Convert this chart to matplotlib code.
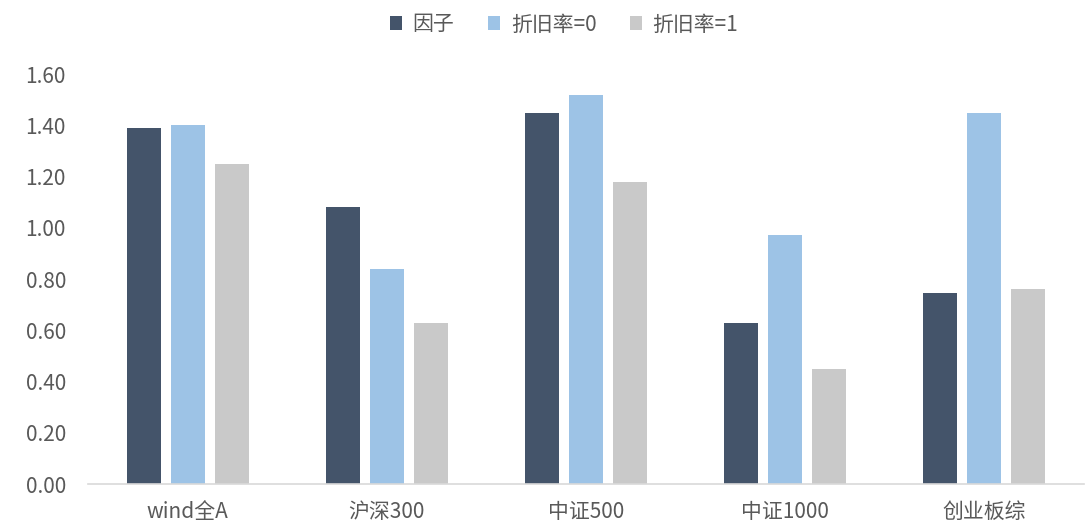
import matplotlib.pyplot as plt
import numpy as np

plt.rcParams['font.family'] = ['Noto Sans CJK SC', 'DejaVu Sans']

# Data
categories = ["wind全A", "沪深300", "中证500", "中证1000", "创业板综"]
series_names = ["因子", "折旧率=0", "折旧率=1"]
factor = [1.39, 1.08, 1.45, 0.63, 0.745]
decay0 = [1.40, 0.84, 1.52, 0.97, 1.45]
decay1 = [1.25, 0.63, 1.18, 0.45, 0.76]
colors = ["#44546A", "#9DC3E6", "#C9C9C9"]
text_color = "#595959"

fig = plt.figure(figsize=(10.89, 5.31), dpi=100)
ax = fig.add_axes([0.081, 0.0885, 0.914, 0.772])

x = np.arange(len(categories))
width = 0.171
step = 0.221
for i, (vals, name) in enumerate(zip([factor, decay0, decay1], series_names)):
    ax.bar(x + (i - 1) * step, vals, width=width, color=colors[i], label=name, zorder=2)

ax.set_xlim(-0.5, len(categories) - 0.5)
ax.set_ylim(0, 1.6)
ticks = np.arange(0, 1.61, 0.2)
ax.set_yticks(ticks)
ax.set_yticklabels([f"{v:.2f}" for v in ticks])
ax.set_xticks(x)
ax.set_xticklabels(categories)

for s in ["top", "right", "left"]:
    ax.spines[s].set_visible(False)
ax.spines["bottom"].set_color("#D9D9D9")
ax.spines["bottom"].set_linewidth(1.2)
ax.tick_params(axis="both", length=0, colors=text_color, labelsize=15)
ax.tick_params(axis="x", pad=12)
ax.tick_params(axis="y", pad=16)

leg = fig.legend(loc="upper center", bbox_to_anchor=(0.518, 1.01), ncol=3, frameon=False,
                 fontsize=15, handlelength=0.6, handleheight=0.6, handletextpad=0.5,
                 columnspacing=1.6)
for t in leg.get_texts():
    t.set_color(text_color)

fig.savefig("out.png", dpi=100)
